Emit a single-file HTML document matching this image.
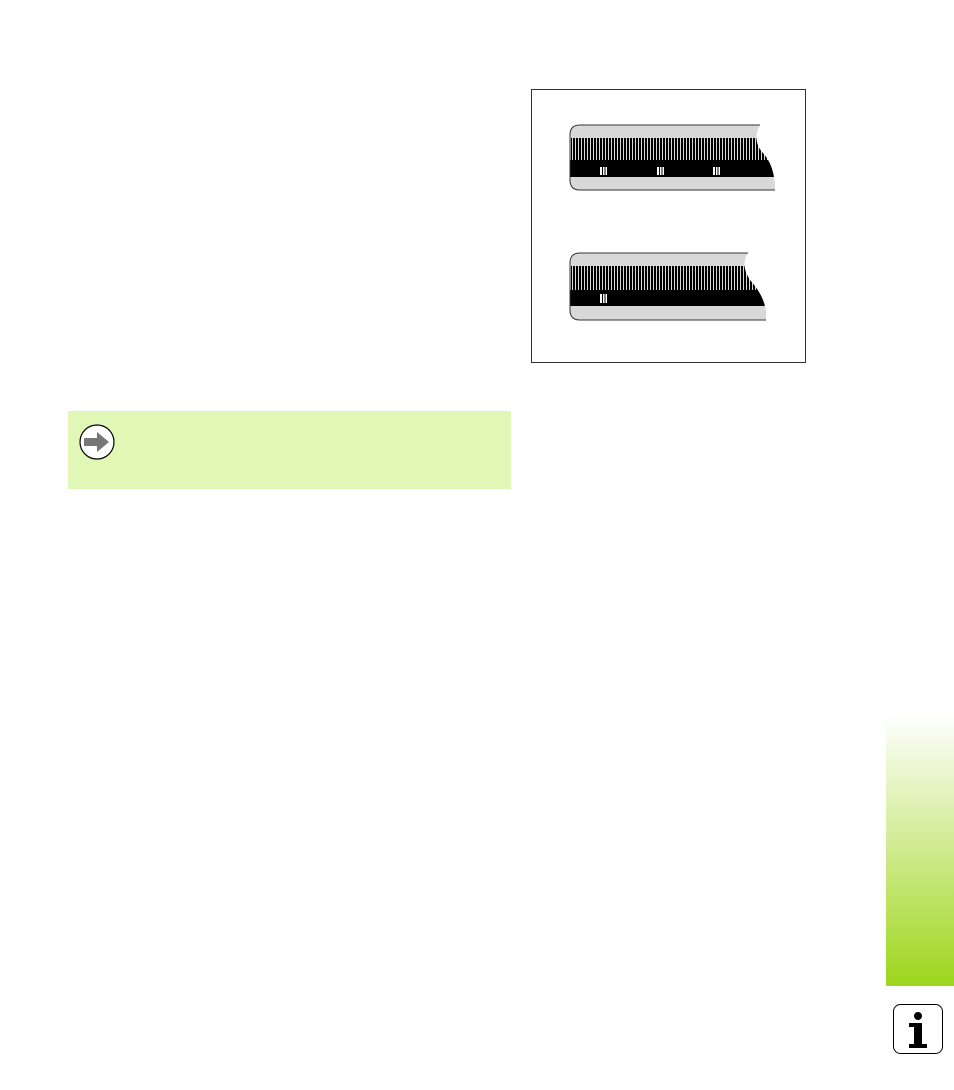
<!DOCTYPE html>
<html><head><style>
body{margin:0;width:954px;height:1090px;background:#fff;position:relative;overflow:hidden;font-family:"Liberation Sans",sans-serif}
.note{position:absolute;left:68px;top:411px;width:443px;height:78px;background:#e0f7b5}
.side{position:absolute;left:886px;top:714px;width:68px;height:272px;background:linear-gradient(#fff,#9ed61c)}
</style></head><body>
<div class="note"></div>
<div class="side"></div>
<svg width="954" height="1090" style="position:absolute;left:0;top:0">
<defs>
<pattern id="tk" width="3" height="10" patternUnits="userSpaceOnUse"><rect width="2" height="10" fill="#000"/></pattern>
<clipPath id="c1"><path d="M580,125 H760 Q752,140 762,152 Q775,165 775,190 H580 Q570,190 570,180 V135 Q570,125 580,125Z"/></clipPath>
<clipPath id="c2"><path d="M580,253 H748 Q740,265 750,280 Q768,300 766,320 H580 Q570,320 570,310 V263 Q570,253 580,253Z"/></clipPath>
</defs>
<rect x="531.5" y="89.5" width="274" height="273" fill="none" stroke="#333"/>
<g clip-path="url(#c1)">
<rect x="560" y="120" width="230" height="80" fill="#d8d8d8"/>
<rect x="571" y="138" width="220" height="22" fill="url(#tk)"/>
<rect x="560" y="160" width="230" height="17" fill="#000"/>
<rect x="600" y="167" width="7" height="8" fill="#fff"/><rect x="602" y="167" width="1" height="8" fill="#000"/><rect x="604.5" y="167" width="1" height="8" fill="#000"/>
<rect x="657" y="167" width="7" height="8" fill="#fff"/><rect x="659" y="167" width="1" height="8" fill="#000"/><rect x="661.5" y="167" width="1" height="8" fill="#000"/>
<rect x="713" y="167" width="7" height="8" fill="#fff"/><rect x="715" y="167" width="1" height="8" fill="#000"/><rect x="717.5" y="167" width="1" height="8" fill="#000"/>
</g>
<path d="M760,125 H580 Q570,125 570,135 V180 Q570,190 580,190 H775" fill="none" stroke="#333"/>
<g clip-path="url(#c2)">
<rect x="560" y="248" width="230" height="80" fill="#d8d8d8"/>
<rect x="571" y="266" width="220" height="24" fill="url(#tk)"/>
<rect x="560" y="290" width="230" height="16" fill="#000"/>
<rect x="600" y="294" width="7" height="9" fill="#fff"/><rect x="602" y="294" width="1" height="9" fill="#000"/><rect x="604.5" y="294" width="1" height="9" fill="#000"/>
</g>
<path d="M748,253 H580 Q570,253 570,263 V310 Q570,320 580,320 H766" fill="none" stroke="#333"/>
<circle cx="97" cy="442" r="17" fill="#fff" stroke="#000" stroke-width="1.2"/>
<path d="M84,438 H97 V432 L109,442 L97,452 V446 H84Z" fill="#777"/>
<rect x="893.5" y="1004.5" width="49" height="49" rx="7" fill="#fff" stroke="#000"/>
<circle cx="918" cy="1016" r="4" fill="#000"/>
<path d="M909,1023 H922 V1044 H927 V1048 H909 V1044 H914 V1027 H909Z" fill="#000"/>
</svg>
</body></html>
